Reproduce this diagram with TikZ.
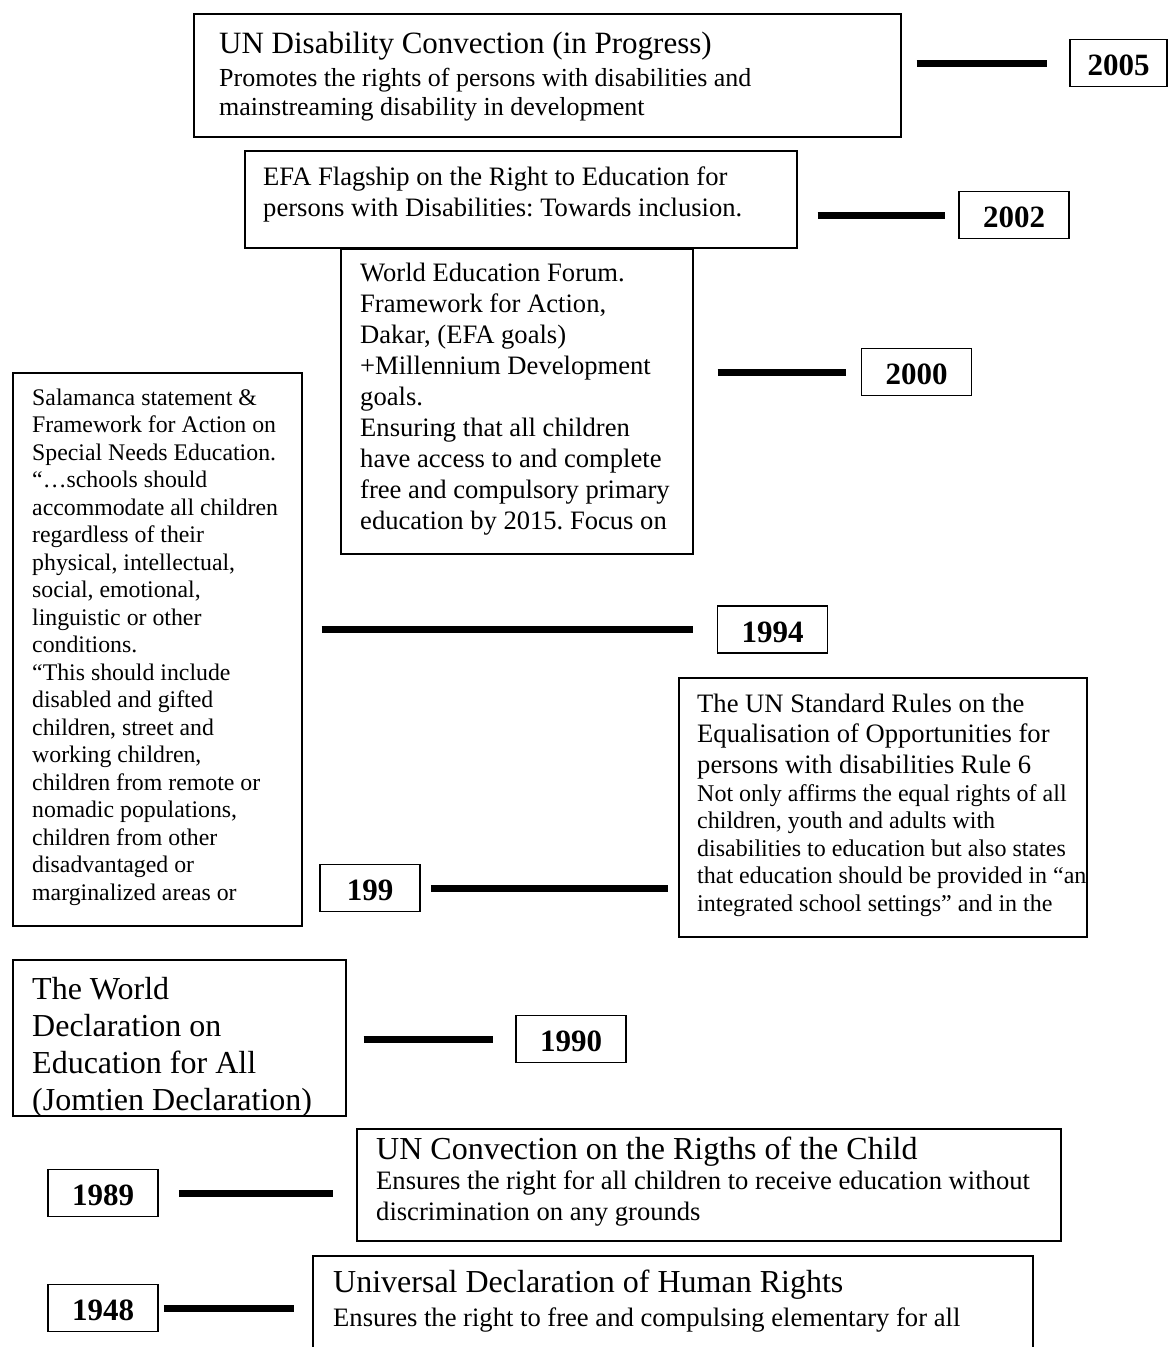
\documentclass[tikz,border=0pt]{standalone}
\usepackage{fontspec}
\setmainfont{Liberation Serif}
\usepackage{tikz}
\usetikzlibrary{positioning}
\frenchspacing

\newcommand{\bodyfont}{\fontsize{26.6}{31}\selectfont}
\newcommand{\topfont}{\fontsize{26}{29}\selectfont}
\newcommand{\headfont}{\fontsize{31}{37}\selectfont}
\newcommand{\bigfont}{\fontsize{32}{37}\selectfont}
\newcommand{\smallfont}{\fontsize{23.8}{27.5}\selectfont}
\newcommand{\rulefont}{\fontsize{26.6}{30.5}\selectfont}
\newcommand{\notefont}{\fontsize{24}{27.5}\selectfont}
\newcommand{\yearfont}{\fontsize{31}{31}\selectfont\bfseries}

\begin{document}
\begin{tikzpicture}[x=1pt, y=-1pt,
    evbox/.style={draw, line width=1.6pt, anchor=north west, inner sep=0pt},
    evtext/.style={anchor=base west, align=left, inner sep=0pt},
    yrbox/.style={draw, line width=1.6pt, minimum width=110pt, minimum height=47pt,
        inner sep=0pt, font=\yearfont, text height=25pt, text depth=0pt},
    yrline/.style={line width=7pt}]
    \clip (0,0) rectangle (1169,1347);

    % 2005
    \node[evbox, minimum width=707pt, minimum height=123pt] (ev2005) at (193,13) {};
    \node[evtext, font=\headfont] (t2005) at ([shift={(26,40)}]ev2005.north west) {UN Disability Convection (in Progress)};
    \node[evtext, font=\topfont] (b2005) at ([shift={(26,102)}]ev2005.north west)
        {Promotes the rights of persons with disabilities and\\mainstreaming disability in development};
    \node[yrbox, minimum width=97pt] (y2005) at (1118.5,63) {2005};

    % 2002
    \node[evbox, minimum width=552pt, minimum height=97pt] (ev2002) at (244,150) {};
    \node[evtext, font=\bodyfont] (t2002) at ([shift={(19,66)}]ev2002.north west)
        {EFA Flagship on the Right to Education for\\persons with Disabilities: Towards inclusion.};
    \node[yrbox] (y2002) at (1014,215) {2002};

    % 2000
    \node[evbox, minimum width=352pt, minimum height=305pt] (ev2000) at (340,248) {};
    \node[evtext, font=\bodyfont] (t2000) at ([shift={(20,281)}]ev2000.north west)
        {World Education Forum.\\Framework for Action,\\Dakar, (EFA goals)\\+Millennium Development\\goals.\\
         Ensuring that all children\\have access to and complete\\free and compulsory primary\\education by 2015. Focus on};
    \node[yrbox] (y2000) at (916.5,372) {2000};

    % 1994
    \node[evbox, minimum width=289pt, minimum height=553pt] (ev1994) at (12,372) {};
    \node[evtext, font=\smallfont] (t1994) at ([shift={(20,528)}]ev1994.north west)
        {Salamanca statement \&\\Framework for Action on\\Special Needs Education.\\“…schools should\\
         accommodate all children\\regardless of their\\physical, intellectual,\\social, emotional,\\
         linguistic or other\\conditions.\\“This should include\\disabled and gifted\\
         children, street and\\working children,\\children from remote or\\nomadic populations,\\
         children from other\\disadvantaged or\\marginalized areas or};
    \node[yrbox] (y1994) at (772.5,629.5) {1994};

    % 199 (Standard Rules)
    \node[evbox, minimum width=408pt, minimum height=259pt] (ev199) at (678,677) {};
    \node[evtext, font=\rulefont] (t199) at ([shift={(19,96)}]ev199.north west)
        {The UN Standard Rules on the\\Equalisation of Opportunities for\\persons with disabilities Rule 6};
    \node[evtext, font=\notefont] (b199) at ([shift={(19,234)}]ev199.north west)
        {Not only affirms the equal rights of all\\children, youth and adults with\\
         disabilities to education but also states\\that education should be provided in “an\\
         integrated school settings” and in the};
    \node[yrbox, minimum width=100pt] (y199) at (370,888) {199};

    % 1990
    \node[evbox, minimum width=333pt, minimum height=156pt] (ev1990) at (12,959) {};
    \node[evtext, font=\bigfont] (t1990) at ([shift={(20,151)}]ev1990.north west)
        {The World\\Declaration on\\Education for All\\(Jomtien Declaration)};
    \node[yrbox] (y1990) at (571,1039) {1990};

    % 1989
    \node[evbox, minimum width=704pt, minimum height=112pt] (ev1989) at (356,1128) {};
    \node[evtext, font=\bigfont] (t1989) at ([shift={(20,31)}]ev1989.north west) {UN Convection on the Rigths of the Child};
    \node[evtext, font=\bodyfont] (b1989) at ([shift={(20,92)}]ev1989.north west)
        {Ensures the right for all children to receive education without\\discrimination on any grounds};
    \node[yrbox] (y1989) at (103,1193) {1989};

    % 1948
    \node[evbox, minimum width=720pt, minimum height=110pt] (ev1948) at (312,1255) {};
    \node[evtext, font=\bigfont] (t1948) at ([shift={(21,37)}]ev1948.north west) {Universal Declaration of Human Rights};
    \node[evtext, font=\bodyfont] (b1948) at ([shift={(21,71)}]ev1948.north west)
        {Ensures the right to free and compulsing elementary for all};
    \node[yrbox] (y1948) at (103,1308) {1948};

    % timeline bars
    \draw[yrline, shorten <=15pt, shorten >=22pt] (ev2005.east |- y2005.west) -- (y2005.west);
    \draw[yrline, shorten <=20pt, shorten >=13pt] (ev2002.east |- y2002.west) -- (y2002.west);
    \draw[yrline, shorten <=24pt, shorten >=15pt] (ev2000.east |- y2000.west) -- (y2000.west);
    \draw[yrline, shorten <=19pt, shorten >=24pt] (ev1994.east |- y1994.west) -- (y1994.west);
    \draw[yrline, shorten <=10pt, shorten >=10pt] (y199.east) -- (ev199.west |- y199.east);
    \draw[yrline, shorten <=17pt, shorten >=22pt] (ev1990.east |- y1990.west) -- (y1990.west);
    \draw[yrline, shorten <=20pt, shorten >=23pt] (y1989.east) -- (ev1989.west |- y1989.east);
    \draw[yrline, shorten <=5pt, shorten >=18pt] (y1948.east) -- (ev1948.west |- y1948.east);
\end{tikzpicture}
\end{document}
